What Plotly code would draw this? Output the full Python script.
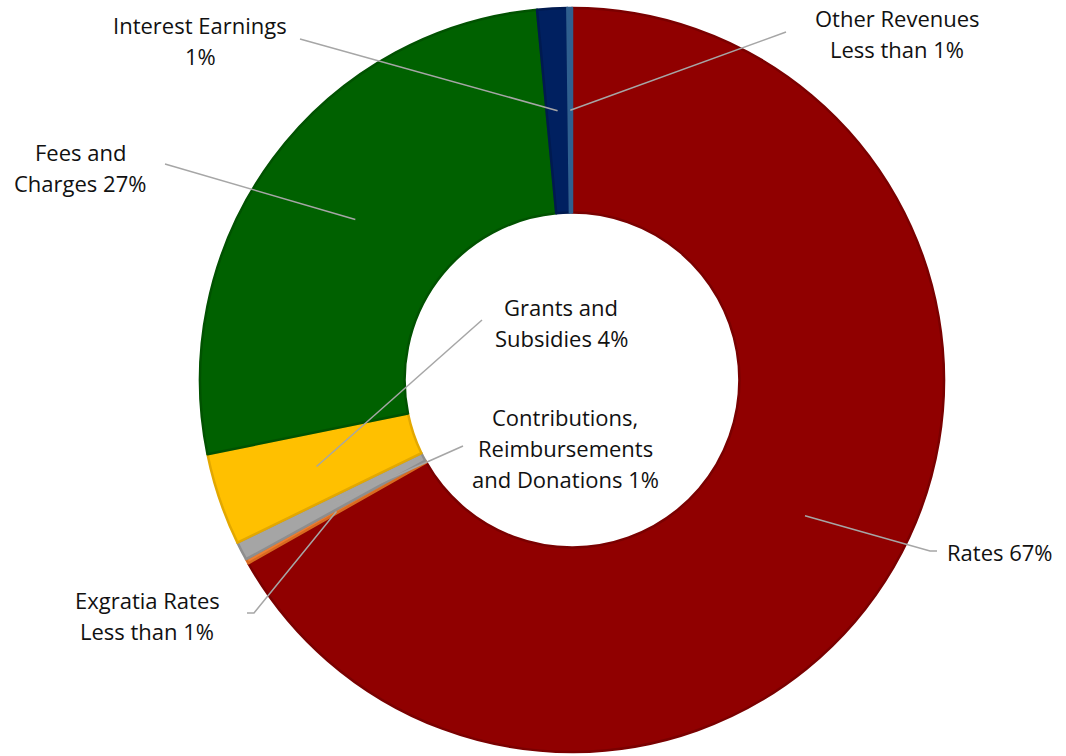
import math
import plotly.graph_objects as go

# Revenue sources, in the order they run clockwise from 12 o'clock
categories = [
    "Rates",
    "Exgratia Rates",
    "Contributions, Reimbursements and Donations",
    "Grants and Subsidies",
    "Fees and Charges",
    "Interest Earnings",
    "Other Revenues",
]
shares = [66.8, 0.2, 0.8, 4.0, 26.7, 1.3, 0.2]

fill_colors = ["#900000", "#ED7D31", "#A5A5A5", "#FFC000", "#006100", "#002060", "#2F5F8F"]
edge_colors = ["#7A0000", "#D96A20", "#8E8E8E", "#E3A800", "#005200", "#001A50", "#2F5F8F"]

# Label text lines (the percentage is appended from the data)
label_lines = [
    ["Rates {p}"],
    ["Exgratia Rates", "{p}"],
    ["Contributions,", "Reimbursements", "and Donations {p}"],
    ["Grants and", "Subsidies {p}"],
    ["Fees and", "Charges {p}"],
    ["Interest Earnings", "{p}"],
    ["Other Revenues", "{p}"],
]

W, H = 1066, 756
CX, CY, R_OUT = 572, 380, 372
HOLE = 0.45
FONT = "Open Sans"
LINE_GAP = 31

# label placement: (centre x, first-line y, anchor side, leader points from label to slice)
label_layout = [
    dict(x=945, y=552, xanchor="left", leader=[(937, 551), (930, 551)]),
    dict(x=147, y=600, xanchor="center", leader=[(247, 613), (254, 613)]),
    dict(x=565, y=417, xanchor="center", leader=[(463, 446)]),
    dict(x=561, y=307, xanchor="center", leader=[(482, 320)]),
    dict(x=80, y=152, xanchor="center", leader=[(165, 164)]),
    dict(x=200, y=25, xanchor="center", leader=[(300, 39)]),
    dict(x=897, y=18, xanchor="center", leader=[(786, 32)]),
]


def px(x):
    return x / W


def py(y):
    return 1 - y / H


def pct_text(v, total):
    p = v / total * 100
    return "Less than 1%" if p < 0.5 else f"{round(p)}%"


fig = go.Figure(
    go.Pie(
        labels=categories,
        values=shares,
        sort=False,
        direction="clockwise",
        rotation=0,
        hole=HOLE,
        textinfo="none",
        hoverinfo="label+percent",
        marker=dict(colors=fill_colors, line=dict(color=edge_colors, width=2.5)),
        domain=dict(x=[px(CX - R_OUT), px(CX + R_OUT)], y=[py(CY + R_OUT), py(CY - R_OUT)]),
        showlegend=False,
    )
)

total = sum(shares)
r_mid = R_OUT * (1 + HOLE) / 2
shapes, annotations = [], []
cum = 0.0
for v, lines, lay in zip(shares, label_lines, label_layout):
    mid = (cum + v / 2) / total * 2 * math.pi
    cum += v
    ax = CX + r_mid * math.sin(mid)
    ay = CY - r_mid * math.cos(mid)
    pts = lay["leader"] + [(ax, ay)]
    path = "M " + " L ".join(f"{px(x):.5f},{py(y):.5f}" for x, y in pts)
    shapes.append(dict(type="path", xref="paper", yref="paper", path=path,
                       line=dict(color="#A6A6A6", width=1.5)))
    p = pct_text(v, total)
    for i, ln in enumerate(lines):
        annotations.append(dict(
            x=px(lay["x"]), y=py(lay["y"] + i * LINE_GAP), xref="paper", yref="paper",
            text=ln.format(p=p), showarrow=False, xanchor=lay["xanchor"], yanchor="middle",
            font=dict(family=FONT, size=22, color="#111111"),
        ))

fig.update_layout(
    width=W, height=H,
    margin=dict(l=0, r=0, t=0, b=0),
    paper_bgcolor="white", plot_bgcolor="white",
    shapes=shapes, annotations=annotations,
)

fig.write_html("out.html")
